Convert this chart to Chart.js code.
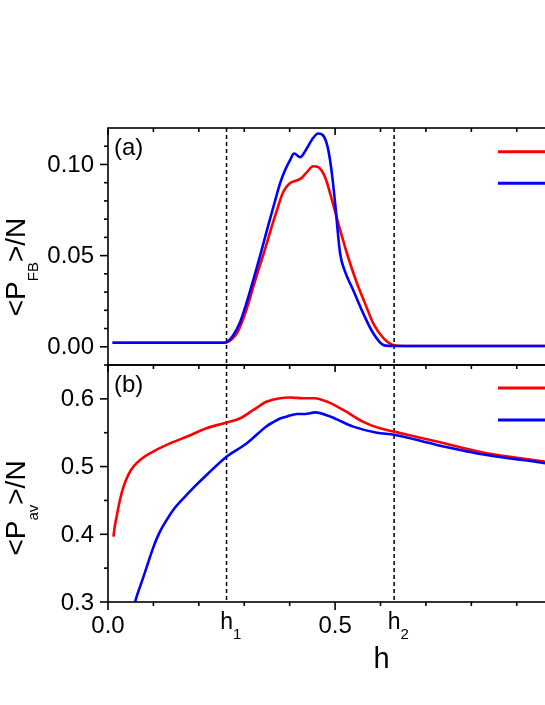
<!DOCTYPE html>
<html>
<head>
<meta charset="utf-8">
<script src="https://cdn.jsdelivr.net/npm/chart.js@4.4.0/dist/chart.umd.min.js"></script>
<style>
  html, body { margin: 0; padding: 0; background: #fff; overflow: hidden; }
  #wrap { position: relative; width: 545px; height: 705px; overflow: hidden; }
  .panel { position: absolute; left: 0; top: 0; }
</style>
</head>
<body>
<div id="wrap">
  <canvas id="avChart" class="panel" width="700" height="705"></canvas>
  <canvas id="fbChart" class="panel" width="700" height="705"></canvas>
</div>
<script>
// ---- data ----
const fbRedH  = [0.01, 0.10, 0.20, 0.255, 0.265, 0.28, 0.29, 0.305, 0.32, 0.335, 0.35, 0.357, 0.372, 0.386, 0.401, 0.415, 0.426, 0.437, 0.452, 0.463, 0.478, 0.493, 0.507, 0.526, 0.548, 0.566, 0.584, 0.607, 0.63, 0.65, 0.80, 1.00];
const fbRedV  = [0.0022, 0.0022, 0.0022, 0.0022, 0.0028, 0.0060, 0.0105, 0.0205, 0.0330, 0.0450, 0.0570, 0.0630, 0.0750, 0.0850, 0.0898, 0.0912, 0.0925, 0.0955, 0.0990, 0.0985, 0.0930, 0.0806, 0.0678, 0.0513, 0.0350, 0.0238, 0.0128, 0.0046, 0.0008, 0.0004, 0.0004, 0.0004];
const fbBlueH = [0.01, 0.10, 0.20, 0.255, 0.265, 0.275, 0.29, 0.305, 0.32, 0.335, 0.35, 0.365, 0.379, 0.39, 0.40, 0.41, 0.423, 0.437, 0.45, 0.463, 0.475, 0.485, 0.493, 0.50, 0.511, 0.522, 0.54, 0.562, 0.584, 0.607, 0.63, 0.80, 1.00];
const fbBlueV = [0.0022, 0.0022, 0.0022, 0.0022, 0.0032, 0.0060, 0.0130, 0.0240, 0.0367, 0.0500, 0.0640, 0.0775, 0.0898, 0.0970, 0.1020, 0.1060, 0.1040, 0.1085, 0.1140, 0.1170, 0.1155, 0.1080, 0.0950, 0.0790, 0.0513, 0.0412, 0.0310, 0.0183, 0.0074, 0.0009, 0.0004, 0.0004, 0.0004];

const avRedH  = [0.012, 0.015, 0.019, 0.026, 0.034, 0.045, 0.056, 0.075, 0.0925, 0.129, 0.173, 0.217, 0.261, 0.29, 0.32, 0.35, 0.379, 0.40, 0.43, 0.455, 0.482, 0.518, 0.562, 0.599, 0.63, 0.724, 0.834, 0.963, 1.0];
const avRedV  = [0.3965, 0.412, 0.426, 0.450, 0.470, 0.488, 0.500, 0.512, 0.5196, 0.532, 0.544, 0.5566, 0.565, 0.571, 0.5836, 0.596, 0.601, 0.602, 0.601, 0.601, 0.596, 0.5836, 0.566, 0.5566, 0.5516, 0.537, 0.5196, 0.507, 0.5025];
const avBlueH = [0.0595, 0.065, 0.078, 0.10, 0.113, 0.129, 0.146, 0.166, 0.19, 0.217, 0.261, 0.305, 0.35, 0.365, 0.379, 0.394, 0.416, 0.434, 0.456, 0.489, 0.54, 0.592, 0.63, 0.724, 0.834, 0.963, 1.0];
const avBlueV = [0.30, 0.312, 0.337, 0.381, 0.402, 0.421, 0.438, 0.453, 0.470, 0.4876, 0.5146, 0.534, 0.560, 0.566, 0.571, 0.574, 0.5777, 0.5777, 0.580, 0.574, 0.559, 0.550, 0.547, 0.532, 0.517, 0.505, 0.5005];

// ---- axes / ticks ----
const xMajorTicks = [0, 0.5, 1.0];
const xTickLabels = ['0.0', '0.5', '1.0'];
const xMinorTicks = [0.1, 0.2, 0.3, 0.4, 0.6, 0.7, 0.8, 0.9, 1.1];
const hMarks = [0.261, 0.63];
const hMarkSubs = ['1', '2'];

const fbMajorTicks = [0, 0.05, 0.10];
const fbTickLabels = ['0.00', '0.05', '0.10'];
const fbMinorTicks = [-0.01, 0.01, 0.02, 0.03, 0.04, 0.06, 0.07, 0.08, 0.09, 0.11];

const avMajorTicks = [0.3, 0.4, 0.5, 0.6];
const avTickLabels = ['0.3', '0.4', '0.5', '0.6'];
const avMinorTicks = [0.35, 0.45, 0.55];

const RED = '#ff0000';
const BLUE = '#0000ff';
const FONT = '"Liberation Sans", Arial, sans-serif';

const pts = (hs, vs) => hs.map((h, i) => ({ x: h, y: vs[i] }));

function drawYTitle(ctx, baseX, centerY, main1, sub, main2) {
  ctx.save();
  ctx.translate(baseX, centerY);
  ctx.rotate(-Math.PI / 2);
  ctx.fillStyle = '#000';
  ctx.textBaseline = 'alphabetic';
  ctx.textAlign = 'left';
  ctx.font = '28px ' + FONT;
  const w1 = ctx.measureText(main1).width;
  const w3 = ctx.measureText(main2).width;
  ctx.font = '15px ' + FONT;
  const w2 = ctx.measureText(sub).width;
  let x = -(w1 + w2 + w3) / 2;
  ctx.font = '28px ' + FONT;
  ctx.fillText(main1, x, 0);
  x += w1;
  ctx.font = '15px ' + FONT;
  ctx.fillText(sub, x, 13);
  x += w2;
  ctx.font = '28px ' + FONT;
  ctx.fillText(main2, x, 0);
  ctx.restore();
}

function axesPlugin(cfg) {
  return {
    id: 'axesBox',
    beforeDatasetsDraw(chart) {
      const { ctx, chartArea: a, scales: { x } } = chart;
      ctx.save();
      ctx.setLineDash([4, 3]);
      ctx.lineWidth = 1.5;
      ctx.strokeStyle = '#000';
      hMarks.forEach(h => {
        const px = x.getPixelForValue(h);
        ctx.beginPath();
        ctx.moveTo(px, a.top);
        ctx.lineTo(px, a.bottom);
        ctx.stroke();
      });
      ctx.restore();
    },
    afterDatasetsDraw(chart) {
      const { ctx, chartArea: a, scales: { x, y } } = chart;
      ctx.save();
      ctx.strokeStyle = '#000';
      ctx.lineWidth = 1.6;
      ctx.strokeRect(a.left, a.top, a.right - a.left, a.bottom - a.top);

      const line = (x1, y1, x2, y2) => { ctx.beginPath(); ctx.moveTo(x1, y1); ctx.lineTo(x2, y2); ctx.stroke(); };

      // left ticks, outward
      cfg.yMajor.forEach(v => { const py = y.getPixelForValue(v); line(a.left - 8, py, a.left, py); });
      cfg.yMinor.forEach(v => { const py = y.getPixelForValue(v); line(a.left - 4, py, a.left, py); });
      // top ticks, inward
      xMajorTicks.forEach(v => { const px = x.getPixelForValue(v); line(px, a.top, px, a.top + 7); });
      xMinorTicks.forEach(v => { const px = x.getPixelForValue(v); line(px, a.top, px, a.top + 4); });
      // bottom ticks, outward (lower panel only)
      if (cfg.bottomAxis) {
        xMajorTicks.forEach(v => { const px = x.getPixelForValue(v); line(px, a.bottom, px, a.bottom + 8); });
        xMinorTicks.forEach(v => { const px = x.getPixelForValue(v); line(px, a.bottom, px, a.bottom + 4); });
      }

      // y tick labels
      ctx.fillStyle = '#000';
      ctx.font = '24px ' + FONT;
      ctx.textAlign = 'right';
      ctx.textBaseline = 'middle';
      cfg.yMajor.forEach((v, i) => ctx.fillText(cfg.yLabels[i], a.left - 14, y.getPixelForValue(v) + 1));

      // x labels
      if (cfg.bottomAxis) {
        ctx.textAlign = 'center';
        ctx.textBaseline = 'alphabetic';
        xMajorTicks.forEach((v, i) => ctx.fillText(xTickLabels[i], x.getPixelForValue(v), a.bottom + 31));
        hMarks.forEach((v, i) => {
          const px = x.getPixelForValue(v);
          ctx.font = '23px ' + FONT;
          ctx.textAlign = 'center';
          ctx.fillText('h', px, a.bottom + 27);
          const hw = ctx.measureText('h').width;
          ctx.font = '15px ' + FONT;
          ctx.textAlign = 'left';
          ctx.fillText(hMarkSubs[i], px + hw / 2, a.bottom + 37);
        });
        ctx.font = '29px ' + FONT;
        ctx.textAlign = 'center';
        ctx.fillText('h', (a.left + a.right) / 2 + 1, a.bottom + 66);
      }

      // panel letter
      ctx.font = '24px ' + FONT;
      ctx.textAlign = 'left';
      ctx.textBaseline = 'alphabetic';
      ctx.fillText(cfg.letter, a.left + 6, a.top + 27);

      // legend lines (labels fall outside the visible crop)
      ctx.lineWidth = 3;
      cfg.legendY.forEach((ly, i) => {
        ctx.strokeStyle = chart.data.datasets[i].borderColor;
        line(498, ly, 550, ly);
      });
      ctx.restore();

      drawYTitle(ctx, 25, cfg.titleY, '<P', cfg.titleSub, '>/N');
    }
  };
}

function makeChart(id, datasets, yMin, yMax, padTop, padBottom, cfg) {
  return new Chart(document.getElementById(id), {
    type: 'line',
    data: { datasets },
    options: {
      responsive: false,
      animation: false,
      events: [],
      layout: { padding: { left: 108, right: 47, top: padTop, bottom: padBottom } },
      scales: {
        x: { type: 'linear', min: 0, max: 1.2, display: false },
        y: { type: 'linear', min: yMin, max: yMax, display: false }
      },
      plugins: { legend: { display: false }, tooltip: { enabled: false } },
      elements: {
        point: { radius: 0 },
        line: { borderWidth: 2.6, cubicInterpolationMode: 'monotone' }
      }
    },
    plugins: [axesPlugin(cfg)]
  });
}

makeChart('avChart', [
  { label: 'red', data: pts(avRedH, avRedV), borderColor: RED, order: 2 },
  { label: 'blue', data: pts(avBlueH, avBlueV), borderColor: BLUE, order: 1 }
], 0.3, 0.65, 365, 103, {
  yMajor: avMajorTicks, yMinor: avMinorTicks, yLabels: avTickLabels,
  bottomAxis: true, letter: '(b)', legendY: [388, 420], titleY: 508, titleSub: 'av'
});

makeChart('fbChart', [
  { label: 'red', data: pts(fbRedH, fbRedV), borderColor: RED, order: 2 },
  { label: 'blue', data: pts(fbBlueH, fbBlueV), borderColor: BLUE, order: 1 }
], -0.01, 0.12, 128, 340, {
  yMajor: fbMajorTicks, yMinor: fbMinorTicks, yLabels: fbTickLabels,
  bottomAxis: false, letter: '(a)', legendY: [151.7, 183.3], titleY: 267, titleSub: 'FB'
});
</script>
</body>
</html>
